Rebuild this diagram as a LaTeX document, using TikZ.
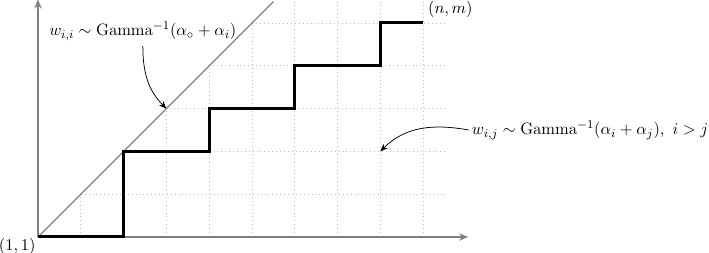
\documentclass[tikz,border=0pt]{standalone}
\usetikzlibrary{arrows.meta}
\begin{document}
\begin{tikzpicture}[x=1cm, y=1cm,
  axis/.style={draw=gray, line width=1pt, -{Stealth[length=6pt,width=5pt]}},
  diag/.style={draw=gray, line width=0.8pt},
  gridl/.style={draw=lightgray, dotted, line width=0.6pt},
  walk/.style={draw=black, line width=2pt},
  lab/.style={font=\fontsize{11.2}{13}\selectfont, inner sep=2pt},
  pointer/.style={draw=black, line width=0.5pt, -{Stealth[length=5pt,width=4pt]}}]
\useasboundingbox (-0.888,-0.374) rectangle (15.68,5.537);
% grid below the diagonal
\foreach \k in {1,...,5} \draw[gridl] (\k,\k) -- (9.5,\k);
\foreach \k in {1,...,5} \draw[gridl] (\k,0) -- (\k,\k);
\foreach \k in {6,...,9} \draw[gridl] (\k,0) -- (\k,5.5);
% axes
\coordinate (O) at (0,0);
\coordinate (xend) at (10.05,0);
\coordinate (yend) at (0,5.55);
\draw[axis] (O) -- (xend);
\draw[axis] (O) -- (yend);
% diagonal
\coordinate (dtop) at (5.5,5.5);
\draw[diag] (O) -- (dtop);
% lattice path
\coordinate (NM) at (9,5);
\draw[walk, line join=miter] (O) -- (2,0) -- (2,2) -- (4,2) -- (4,3) -- (6,3) -- (6,4) -- (8,4) -- (8,5) -- (NM);
% labels
\node[lab, anchor=north east, inner sep=0pt] (start) at (-0.05,-0.01) {$(1,1)$};
\node[lab, anchor=south west, inner sep=0pt] (end) at (9.11,5.12) {$(n,m)$};
\node[lab] (wii) at (2.45,4.81) {$w_{i,i}\sim\mathrm{Gamma}^{-1}(\alpha_\circ+\alpha_i)$};
\node[lab] (wij) at (12.9,2.5) {$w_{i,j}\sim\mathrm{Gamma}^{-1}(\alpha_i+\alpha_j),\ i>j$};
\coordinate (d33) at (3,3);
\coordinate (p82) at (8,2);
\draw[pointer] (wii.south) ++(0,-0.05) to[out=-90, in=135] (d33);
\draw[pointer] (wij.west) to[out=170, in=45] (p82);
\end{tikzpicture}
\end{document}
